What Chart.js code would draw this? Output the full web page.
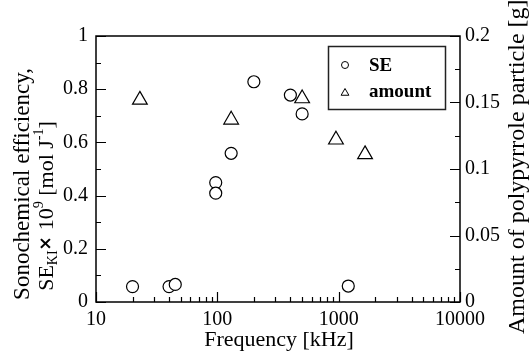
<!DOCTYPE html>
<html>
<head>
<meta charset="utf-8">
<script src="https://cdn.jsdelivr.net/npm/chart.js@4.4.1/dist/chart.umd.min.js"></script>
<style>
html,body{margin:0;padding:0;background:#fff;}
#wrap{width:532px;height:352px;position:relative;}
</style>
</head>
<body>
<div id="wrap"><canvas id="c" width="532" height="352"></canvas></div>
<script>
// ---- data ----
const seFreq = [20, 40, 45, 97, 97, 130, 200, 400, 500, 1200];
const seValue = [0.058, 0.058, 0.066, 0.449, 0.409, 0.559, 0.828, 0.778, 0.707, 0.060];
const amountFreq = [23, 130, 500, 950, 1650];
const amountValue = [0.152, 0.137, 0.153, 0.122, 0.111];
const xTickValues = [10, 100, 1000, 10000];
const yLeftTicks = [0, 0.2, 0.4, 0.6, 0.8, 1];
const yRightTicks = [0, 0.05, 0.1, 0.15, 0.2];
const seriesLabels = ['SE', 'amount'];

const SERIF = '"Liberation Serif", "Times New Roman", serif';

function pts(xs, ys) { return xs.map((x, i) => ({x: x, y: ys[i]})); }

const framePlugin = {
  id: 'frame',
  afterDraw(chart) {
    const ctx = chart.ctx;
    const a = chart.chartArea;
    const sx = chart.scales.x, sy = chart.scales.y, sy2 = chart.scales.y2;
    ctx.save();
    ctx.strokeStyle = '#000';
    ctx.lineWidth = 1.5;
    ctx.strokeRect(a.left, a.top, a.right - a.left, a.bottom - a.top);
    ctx.lineWidth = 1.2;
    ctx.beginPath();
    // x ticks (inward from bottom)
    for (let d = 10; d < 10000; d *= 10) {
      for (let m = 1; m <= 10; m++) {
        const v = d * m;
        if (v > 10000) break;
        const px = Math.round(sx.getPixelForValue(v)) + 0.5;
        const len = (m === 1 || m === 10) ? 10 : 5;
        ctx.moveTo(px, a.bottom);
        ctx.lineTo(px, a.bottom - len);
      }
    }
    // left y ticks
    for (let k = 0; k <= 10; k++) {
      const v = k * 0.1;
      const py = Math.round(sy.getPixelForValue(v)) + 0.5;
      const len = (k % 2 === 0) ? 10 : 5;
      ctx.moveTo(a.left, py);
      ctx.lineTo(a.left + len, py);
    }
    // right y ticks
    for (let k = 0; k <= 8; k++) {
      const v = k * 0.025;
      const py = Math.round(sy2.getPixelForValue(v)) + 0.5;
      const len = (k % 2 === 0) ? 10 : 5;
      ctx.moveTo(a.right, py);
      ctx.lineTo(a.right - len, py);
    }
    ctx.stroke();

    // axis titles
    ctx.fillStyle = '#000';
    ctx.textBaseline = 'middle';
    // x title
    ctx.font = '22px ' + SERIF;
    ctx.textAlign = 'center';
    ctx.fillText('Frequency [kHz]', (a.left + a.right) / 2 + 1, 340);

    // left title line 1
    ctx.save();
    ctx.translate(23, 184);
    ctx.rotate(-Math.PI / 2);
    ctx.font = '23px ' + SERIF;
    ctx.textAlign = 'center';
    ctx.fillText('Sonochemical efficiency,', 0, 0);
    ctx.restore();

    // left title line 2 with sub/superscripts
    const parts = [
      {t: 'SE', f: '22px ' + SERIF, dy: 0},
      {t: 'KI', f: '14px ' + SERIF, dy: 6},
      {t: '\u00d7 ', f: 'bold 17px "DejaVu Sans", sans-serif', dy: 0},
      {t: '10', f: '22px ' + SERIF, dy: 0},
      {t: '9', f: '14px ' + SERIF, dy: -8},
      {t: ' [mol J', f: '22px ' + SERIF, dy: 0},
      {t: '-1', f: '14px ' + SERIF, dy: -8},
      {t: ']', f: '22px ' + SERIF, dy: 0}
    ];
    let total = 0;
    parts.forEach(p => { ctx.font = p.f; p.w = ctx.measureText(p.t).width; total += p.w; });
    ctx.save();
    ctx.translate(47, 206);
    ctx.rotate(-Math.PI / 2);
    ctx.textAlign = 'left';
    let cx = -total / 2;
    parts.forEach(p => { ctx.font = p.f; ctx.fillText(p.t, cx, p.dy); cx += p.w; });
    ctx.restore();

    // right title
    ctx.save();
    ctx.translate(518, 334);
    ctx.rotate(-Math.PI / 2);
    ctx.font = '24px ' + SERIF;
    ctx.textAlign = 'left';
    ctx.fillText('Amount of polypyrrole particle [g]', 0, 0);
    ctx.restore();

    // legend
    const lx = 328, ly = 46, lw = 117, lh = 63;
    ctx.fillStyle = '#fff';
    ctx.fillRect(lx, ly, lw, lh);
    ctx.strokeStyle = '#222';
    ctx.lineWidth = 1.5;
    ctx.strokeRect(lx + 0.5, ly + 0.5, lw, lh);
    ctx.lineWidth = 1;
    ctx.strokeStyle = '#000';
    ctx.beginPath();
    ctx.arc(345, 65, 3.5, 0, Math.PI * 2);
    ctx.stroke();
    ctx.beginPath();
    const tr = 4.5, tx = 345, ty = 93;
    ctx.moveTo(tx, ty - tr);
    ctx.lineTo(tx + tr * Math.sin(2 * Math.PI / 3), ty + tr / 2);
    ctx.lineTo(tx - tr * Math.sin(2 * Math.PI / 3), ty + tr / 2);
    ctx.closePath();
    ctx.stroke();
    ctx.fillStyle = '#000';
    ctx.font = 'bold 19px ' + SERIF;
    ctx.textAlign = 'left';
    ctx.fillText(seriesLabels[0], 369, 66);
    ctx.fillText(seriesLabels[1], 369, 92);
    ctx.restore();
  }
};

const tickFont = {family: SERIF, size: 20};

new Chart(document.getElementById('c'), {
  type: 'scatter',
  data: {
    datasets: [
      {
        label: seriesLabels[0],
        data: pts(seFreq, seValue),
        yAxisID: 'y',
        pointStyle: 'circle',
        pointRadius: 6,
        pointBorderWidth: 1.2,
        borderColor: '#000',
        backgroundColor: '#fff',
        order: 2
      },
      {
        label: seriesLabels[1],
        data: pts(amountFreq, amountValue),
        yAxisID: 'y2',
        pointStyle: 'triangle',
        pointRadius: 8.5,
        pointBorderWidth: 1.2,
        borderColor: '#000',
        backgroundColor: '#fff',
        order: 1
      }
    ]
  },
  options: {
    responsive: false,
    animation: false,
    events: [],
    layout: {padding: {top: 36, left: 0, right: 0, bottom: 0}},
    plugins: {legend: {display: false}, tooltip: {enabled: false}},
    scales: {
      x: {
        type: 'logarithmic',
        position: 'bottom',
        min: 10, max: 10000,
        grid: {display: false, drawTicks: false},
        border: {display: false},
        afterFit(s) { s.height = 50; },
        afterBuildTicks(s) { s.ticks = xTickValues.map(v => ({value: v})); },
        ticks: {
          font: tickFont, color: '#000', padding: 6, maxRotation: 0, autoSkip: false,
          callback: v => String(v)
        }
      },
      y: {
        type: 'linear',
        position: 'left',
        min: 0, max: 1,
        grid: {display: false, drawTicks: false},
        border: {display: false},
        afterFit(s) { s.width = 96; },
        afterBuildTicks(s) { s.ticks = yLeftTicks.map(v => ({value: v})); },
        ticks: {font: tickFont, color: '#000', padding: 8, callback: v => String(v)}
      },
      y2: {
        type: 'linear',
        position: 'right',
        min: 0, max: 0.2,
        grid: {display: false, drawTicks: false},
        border: {display: false},
        afterFit(s) { s.width = 72; },
        afterBuildTicks(s) { s.ticks = yRightTicks.map(v => ({value: v})); },
        ticks: {font: tickFont, color: '#000', padding: 5, callback: v => String(v)}
      }
    }
  },
  plugins: [framePlugin]
});
</script>
</body>
</html>
